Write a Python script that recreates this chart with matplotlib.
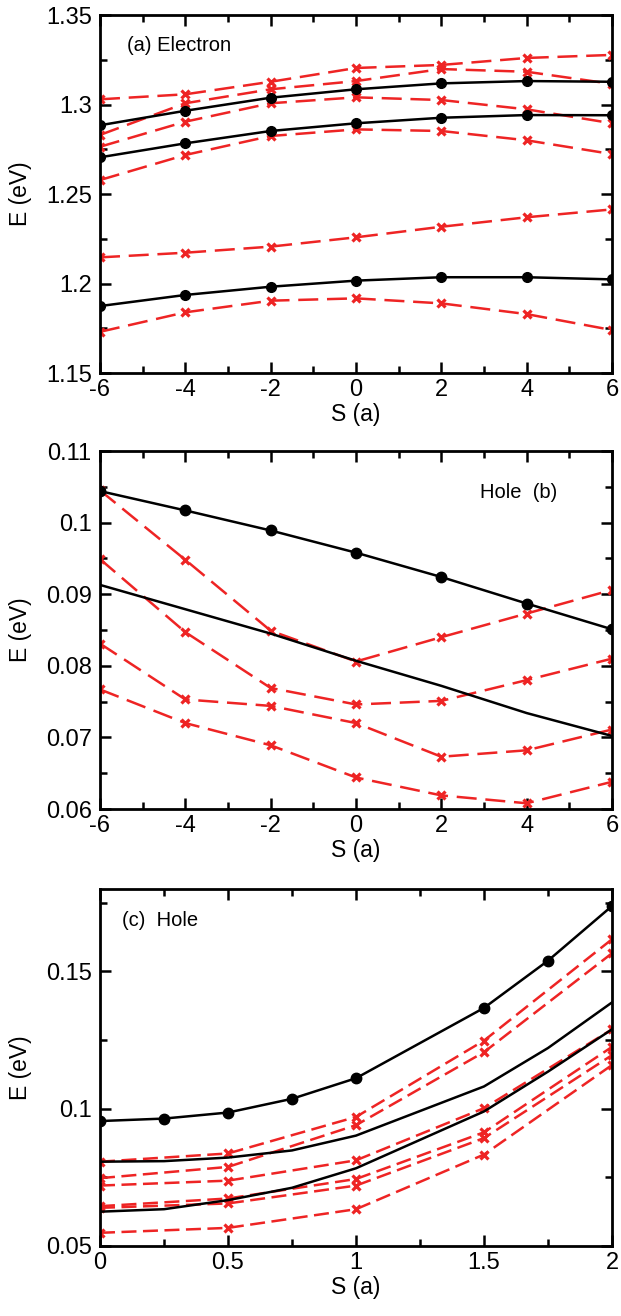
import numpy as np
import matplotlib
matplotlib.use("Agg")
import matplotlib.pyplot as plt
from matplotlib.ticker import MultipleLocator

plt.rcParams["font.family"] = ["Liberation Sans", "DejaVu Sans"]
plt.rcParams["axes.unicode_minus"] = False

# panel (a): electron, S = -6..6
s_ab = [-6, -4, -2, 0, 2, 4, 6]
a_black = [
    [1.2884, 1.2965, 1.3038, 1.3085, 1.3118, 1.3131, 1.3127],
    [1.2705, 1.2783, 1.2852, 1.2895, 1.2926, 1.2941, 1.2940],
    [1.1874, 1.1936, 1.1982, 1.2016, 1.2035, 1.2035, 1.2023],
]
a_red = [
    [1.3029, 1.3057, 1.3127, 1.3204, 1.3221, 1.3260, 1.3277],
    [1.2830, 1.3007, 1.3085, 1.3131, 1.3198, 1.3183, 1.3115],
    [1.2764, 1.2904, 1.3007, 1.3040, 1.3025, 1.2973, 1.2895],
    [1.2578, 1.2718, 1.2824, 1.2861, 1.2852, 1.2800, 1.2723],
    [1.2146, 1.2172, 1.2206, 1.2258, 1.2317, 1.2370, 1.2414],
    [1.1730, 1.1839, 1.1904, 1.1917, 1.1889, 1.1829, 1.1740],
]

# panel (b): hole, S = -6..6
b_black_dots = [0.1044, 0.1017, 0.0989, 0.0958, 0.0924, 0.0887, 0.0851]
b_black_line = [0.0913, 0.0879, 0.0845, 0.0807, 0.0772, 0.0734, 0.0702]
b_red = [
    [0.1045, 0.0948, 0.0849, 0.0806, 0.0840, 0.0873, 0.0906],
    [0.0949, 0.0847, 0.0769, 0.0746, 0.0751, 0.0780, 0.0810],
    [0.0831, 0.0753, 0.0744, 0.0720, 0.0673, 0.0682, 0.0711],
    [0.0767, 0.0720, 0.0689, 0.0644, 0.0619, 0.0608, 0.0638],
]

# panel (c): hole, S = 0..2
s_c_black = [0, 0.25, 0.5, 0.75, 1, 1.5, 1.75, 2]
c_black_dots = [0.0955, 0.0964, 0.0986, 0.1036, 0.1111, 0.1367, 0.1539, 0.1738]
c_black_lines = [
    [0.0807, 0.0809, 0.0822, 0.0848, 0.0902, 0.1081, 0.1221, 0.1387],
    [0.0625, 0.0634, 0.0667, 0.0712, 0.0783, 0.0990, 0.1135, 0.1289],
]
s_c_red = [0, 0.5, 1, 1.5, 2]
c_red = [
    [0.0807, 0.0837, 0.0970, 0.1248, 0.1617],
    [0.0747, 0.0788, 0.0940, 0.1206, 0.1566],
    [0.0720, 0.0738, 0.0812, 0.1002, 0.1289],
    [0.0645, 0.0673, 0.0744, 0.0914, 0.1225],
    [0.0639, 0.0655, 0.0720, 0.0893, 0.1195],
    [0.0548, 0.0566, 0.0634, 0.0833, 0.1159],
]

RED = "#ee2424"
LW = 1.8

fig = plt.figure(figsize=(6.21, 13.16), dpi=100)
left, width = 100 / 621, 512 / 621
ax_a = fig.add_axes([left, 1 - 373 / 1316, width, 358 / 1316])
ax_b = fig.add_axes([left, 1 - 809 / 1316, width, 358 / 1316])
ax_c = fig.add_axes([left, 1 - 1246 / 1316, width, 357 / 1316])


def style(ax):
    for sp in ax.spines.values():
        sp.set_linewidth(2.0)
    ax.tick_params(which="both", direction="in", top=True, right=True,
                   width=1.8, labelsize=17, pad=6)
    ax.tick_params(axis="x", pad=4)
    ax.tick_params(which="major", length=8)
    ax.tick_params(which="minor", length=5)
    ax.set_ylabel("E (eV)", fontsize=16.5)
    ax.set_xlabel("S (a)", fontsize=16.5, labelpad=2)
    ax.yaxis.set_label_coords(-0.132, 0.5)


def red_line(ax, x, y, dashes):
    ax.plot(x, y, color=RED, lw=LW, dashes=dashes, marker="x", ms=5.5,
            mew=2.3, zorder=2)


# (a)
for y in a_red:
    red_line(ax_a, s_ab, y, (8, 3.5))
for y in a_black:
    ax_a.plot(s_ab, y, color="black", lw=LW, marker="o", ms=7, zorder=3)
ax_a.set_xlim(-6, 6)
ax_a.set_ylim(1.15, 1.35)
ax_a.xaxis.set_major_locator(MultipleLocator(2))
ax_a.xaxis.set_minor_locator(MultipleLocator(1))
ax_a.set_yticks([1.15, 1.2, 1.25, 1.3, 1.35])
ax_a.set_yticklabels(["1.15", "1.2", "1.25", "1.3", "1.35"])
ax_a.yaxis.set_minor_locator(MultipleLocator(0.025))
ax_a.text(0.053, 0.916, "(a) Electron", transform=ax_a.transAxes,
          fontsize=14.5, va="center", ha="left")
style(ax_a)

# (b)
for y in b_red:
    red_line(ax_b, s_ab, y, (8, 3.5))
ax_b.plot(s_ab, b_black_line, color="black", lw=LW, zorder=3)
ax_b.plot(s_ab, b_black_dots, color="black", lw=LW, marker="o", ms=7.5, zorder=3)
ax_b.set_xlim(-6, 6)
ax_b.set_ylim(0.06, 0.11)
ax_b.xaxis.set_major_locator(MultipleLocator(2))
ax_b.xaxis.set_minor_locator(MultipleLocator(1))
ax_b.set_yticks([0.06, 0.07, 0.08, 0.09, 0.1, 0.11])
ax_b.set_yticklabels(["0.06", "0.07", "0.08", "0.09", "0.1", "0.11"])
ax_b.yaxis.set_minor_locator(MultipleLocator(0.005))
ax_b.text(0.893, 0.885, "Hole  (b)", transform=ax_b.transAxes,
          fontsize=14.5, va="center", ha="right")
style(ax_b)

# (c)
for y in c_red:
    red_line(ax_c, s_c_red, y, (6, 2.6))
for y in c_black_lines:
    ax_c.plot(s_c_black, y, color="black", lw=LW, zorder=3)
ax_c.plot(s_c_black, c_black_dots, color="black", lw=LW, marker="o", ms=7.5, zorder=3)
ax_c.set_xlim(0, 2)
ax_c.set_ylim(0.05, 0.18)
ax_c.set_xticks([0, 0.5, 1, 1.5, 2])
ax_c.set_xticklabels(["0", "0.5", "1", "1.5", "2"])
ax_c.xaxis.set_minor_locator(MultipleLocator(0.25))
ax_c.set_yticks([0.05, 0.1, 0.15])
ax_c.set_yticklabels(["0.05", "0.1", "0.15"])
ax_c.yaxis.set_minor_locator(MultipleLocator(0.025))
ax_c.text(0.043, 0.913, "(c)  Hole", transform=ax_c.transAxes,
          fontsize=14.5, va="center", ha="left")
style(ax_c)

fig.savefig("out.png", dpi=100)
